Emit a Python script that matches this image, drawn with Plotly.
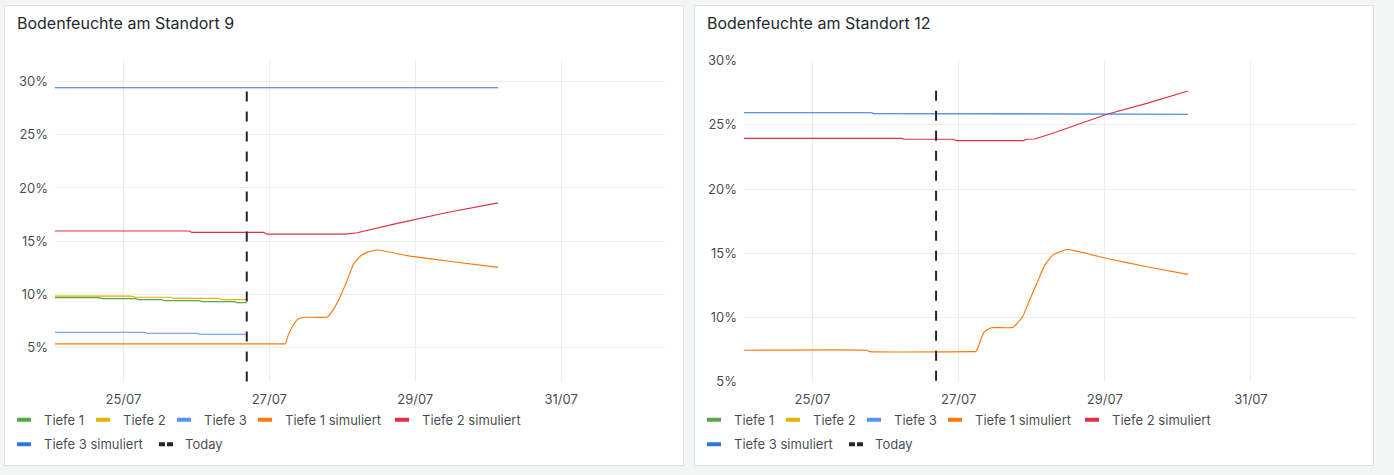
import plotly.graph_objects as go

W, H = 1394, 475


def px(x):
    return x / W


def py(y):
    return 1 - y / H


# ---------------- data ----------------
tick_dates = ["2024-07-25", "2024-07-27", "2024-07-29", "2024-07-31"]
tick_labels = ["25/07", "27/07", "29/07", "31/07"]
x_range = ["2024-07-24 01:30", "2024-08-01 10:10"]
today_time = ["2024-07-26 16:35", "2024-07-26 16:35"]

y_ticks = [5, 10, 15, 20, 25, 30]
y_tick_labels = ["5%", "10%", "15%", "20%", "25%", "30%"]
y_range_9 = [1.8, 32.0]
y_range_12 = [5.0, 30.0]

# Standort 9
s9_t1_x = ["2024-07-24 01:30", "2024-07-24 16:00", "2024-07-24 17:00", "2024-07-25 04:00",
           "2024-07-25 05:00", "2024-07-25 12:30", "2024-07-25 13:30", "2024-07-26 01:00",
           "2024-07-26 02:00", "2024-07-26 12:30", "2024-07-26 13:30", "2024-07-26 16:35"]
s9_t1_y = [9.71, 9.71, 9.62, 9.62, 9.53, 9.53, 9.43, 9.43, 9.34, 9.34, 9.24, 9.24]

s9_t2_x = ["2024-07-24 01:30", "2024-07-25 02:45", "2024-07-25 03:45", "2024-07-25 15:30",
           "2024-07-25 16:30", "2024-07-26 07:20", "2024-07-26 08:20", "2024-07-26 16:35"]
s9_t2_y = [9.85, 9.85, 9.75, 9.75, 9.65, 9.65, 9.53, 9.53]

s9_t3_x = ["2024-07-24 01:30", "2024-07-25 06:45", "2024-07-25 07:45", "2024-07-26 00:10",
           "2024-07-26 01:10", "2024-07-26 16:35"]
s9_t3_y = [6.47, 6.47, 6.37, 6.37, 6.28, 6.28]

s9_t1sim_x = ["2024-07-24 01:30", "2024-07-27 05:00", "2024-07-27 05:18", "2024-07-27 06:15",
              "2024-07-27 07:54", "2024-07-27 09:30", "2024-07-27 11:12", "2024-07-27 19:06",
              "2024-07-27 21:00", "2024-07-27 23:18", "2024-07-28 01:42", "2024-07-28 03:36",
              "2024-07-28 05:54", "2024-07-28 08:12", "2024-07-28 11:30", "2024-07-28 22:24",
              "2024-07-29 10:30", "2024-07-30 03:18"]
s9_t1sim_y = [5.37, 5.37, 5.37, 6.22, 7.15, 7.7, 7.87, 7.9, 8.56, 9.8, 11.4, 12.8, 13.6,
              13.96, 14.18, 13.6, 13.15, 12.55]

s9_t2sim_x = ["2024-07-24 01:30", "2024-07-25 21:30", "2024-07-25 22:30", "2024-07-26 22:10",
              "2024-07-26 23:10", "2024-07-28 01:00", "2024-07-28 04:54", "2024-07-28 18:06",
              "2024-07-29 10:30", "2024-07-30 03:18"]
s9_t2sim_y = [15.96, 15.96, 15.84, 15.84, 15.67, 15.67, 15.8, 16.68, 17.7, 18.6]

s9_t3sim_x = ["2024-07-24 01:30", "2024-07-30 03:18"]
s9_t3sim_y = [29.4, 29.4]

s9_today_y = [29.05, 1.8]

# Standort 12
s12_t1sim_x = ["2024-07-24 01:30", "2024-07-25 17:50", "2024-07-25 18:50", "2024-07-27 05:20",
               "2024-07-27 05:36", "2024-07-27 06:15", "2024-07-27 07:36", "2024-07-27 08:30",
               "2024-07-27 10:42", "2024-07-27 17:48", "2024-07-27 21:00", "2024-07-27 23:18",
               "2024-07-28 01:39", "2024-07-28 04:18", "2024-07-28 06:54", "2024-07-28 11:30",
               "2024-07-29 00:42", "2024-07-29 13:48", "2024-07-30 03:18"]
s12_t1sim_y = [7.45, 7.45, 7.34, 7.34, 7.34, 7.6, 8.5, 8.9, 9.2, 9.23, 10.06, 11.36, 12.66,
               14.08, 14.86, 15.3, 14.6, 13.95, 13.36]

s12_t2sim_x = ["2024-07-24 01:30", "2024-07-26 05:10", "2024-07-26 06:10", "2024-07-26 22:15",
               "2024-07-26 23:15", "2024-07-27 21:15", "2024-07-27 22:15", "2024-07-28 01:00",
               "2024-07-28 06:54", "2024-07-28 15:48", "2024-07-29 00:42", "2024-07-29 13:48",
               "2024-07-30 03:18"]
s12_t2sim_y = [23.95, 23.95, 23.88, 23.88, 23.78, 23.78, 23.88, 23.9, 24.35, 25.12,
               25.83, 26.68, 27.64]

s12_t3sim_x = ["2024-07-24 01:30", "2024-07-25 19:15", "2024-07-25 20:15", "2024-07-26 18:00",
               "2024-07-26 19:00", "2024-07-30 03:18"]
s12_t3sim_y = [25.95, 25.95, 25.88, 25.88, 25.83, 25.83]

s12_today_y = [27.65, 5.0]

titles = ["Bodenfeuchte am Standort 9", "Bodenfeuchte am Standort 12"]
legend_names = ["Tiefe 1", "Tiefe 2", "Tiefe 3", "Tiefe 1 simuliert",
                "Tiefe 2 simuliert", "Tiefe 3 simuliert", "Today"]

# ---------------- style ----------------
colors = {
    "Tiefe 1": "#56A64B",
    "Tiefe 2": "#E0B400",
    "Tiefe 3": "#5794F2",
    "Tiefe 1 simuliert": "#FF780A",
    "Tiefe 2 simuliert": "#E02F44",
    "Tiefe 3 simuliert": "#3274D9",
    "Today": "#232529",
}
smooth = {"Tiefe 1 simuliert": 0.35}
FONT = "Inter, Roboto, sans-serif"
TEXT = "rgba(36,41,46,0.85)"
GRID = "#ececec"
LW = 1.15

fig = go.Figure()

panels = [
    dict(xa="x", ya="y", series=[
        ("Tiefe 1", s9_t1_x, s9_t1_y), ("Tiefe 2", s9_t2_x, s9_t2_y),
        ("Tiefe 3", s9_t3_x, s9_t3_y), ("Tiefe 1 simuliert", s9_t1sim_x, s9_t1sim_y),
        ("Tiefe 2 simuliert", s9_t2sim_x, s9_t2sim_y),
        ("Tiefe 3 simuliert", s9_t3sim_x, s9_t3sim_y)], today=s9_today_y),
    dict(xa="x2", ya="y2", series=[
        ("Tiefe 1 simuliert", s12_t1sim_x, s12_t1sim_y),
        ("Tiefe 2 simuliert", s12_t2sim_x, s12_t2sim_y),
        ("Tiefe 3 simuliert", s12_t3sim_x, s12_t3sim_y)], today=s12_today_y),
]

for p in panels:
    for name, xs, ys in p["series"]:
        line = dict(color=colors[name], width=LW)
        if name in smooth:
            line.update(shape="spline", smoothing=smooth[name])
        fig.add_trace(go.Scatter(x=xs, y=ys, mode="lines", name=name, showlegend=False,
                                 line=line, xaxis=p["xa"], yaxis=p["ya"], hoverinfo="skip"))
    fig.add_trace(go.Scatter(x=today_time, y=p["today"], mode="lines", name="Today",
                             showlegend=False,
                             line=dict(color=colors["Today"], width=2, dash="10px,10px"),
                             xaxis=p["xa"], yaxis=p["ya"], hoverinfo="skip"))

# legends: one legend per entry so positions match the dashboard layout
panel_offsets = [0, 690]
legend_text_x = [44, 123, 204, 285, 422, 44, 185]
legend_row_y = [419.7, 419.7, 419.7, 419.7, 419.7, 444.3, 444.3]
legend_layouts = {}
k = 0
for pi, off in enumerate(panel_offsets):
    for j, name in enumerate(legend_names):
        k += 1
        lname = "legend" if k == 1 else f"legend{k}"
        if name == "Today":
            fig.add_trace(go.Scatter(
                x=[None], y=[None], mode="lines", name=name, legend=lname,
                line=dict(color=colors[name], width=4, dash="0px,9px,6px,2px,6px,100px"),
                xaxis=panels[pi]["xa"], yaxis=panels[pi]["ya"]))
        else:
            fig.add_trace(go.Scatter(
                x=[None], y=[None], mode="markers", name=name, legend=lname,
                marker=dict(symbol="line-ew", size=10, color=colors[name],
                            line=dict(width=4, color=colors[name])),
                xaxis=panels[pi]["xa"], yaxis=panels[pi]["ya"]))
        legend_layouts[lname] = dict(
            x=px(off + legend_text_x[j] - 40), y=py(legend_row_y[j]),
            xanchor="left", yanchor="middle", orientation="h",
            bgcolor="rgba(0,0,0,0)", borderwidth=0,
            font=dict(family=FONT, size=13, color=TEXT), itemclick=False)

# panel backgrounds
shapes = []
for x0, x1 in [(4.5, 683.5), (694.5, 1373.5)]:
    shapes.append(dict(type="rect", xref="paper", yref="paper", layer="below",
                       x0=px(x0), x1=px(x1), y0=py(465.5), y1=py(5.5),
                       fillcolor="#ffffff", line=dict(color="#dfe1e4", width=1)))

annotations = []
for t, x in zip(titles, [15, 705]):
    annotations.append(dict(text=t, xref="paper", yref="paper", x=px(x), y=py(23),
                            xanchor="left", yanchor="middle", showarrow=False,
                            font=dict(family=FONT, size=16, color="#24292e")))

axis_common_x = dict(type="date", range=x_range, tickvals=tick_dates, ticktext=tick_labels,
                     showgrid=True, gridcolor=GRID, gridwidth=1, zeroline=False,
                     showline=False, ticks="", ticklabelstandoff=8, automargin=False,
                     tickfont=dict(family=FONT, size=13, color=TEXT), fixedrange=True)
axis_common_y = dict(tickvals=y_ticks, ticktext=y_tick_labels, showgrid=True, gridcolor=GRID,
                     gridwidth=1, zeroline=False, showline=False, ticks="",
                     ticklabelstandoff=6, automargin=False,
                     tickfont=dict(family=FONT, size=13, color=TEXT), fixedrange=True)

fig.update_layout(
    width=W, height=H, autosize=False,
    margin=dict(l=0, r=0, t=0, b=0, pad=0, autoexpand=False),
    paper_bgcolor="#f4f5f5", plot_bgcolor="rgba(0,0,0,0)",
    font=dict(family=FONT, color=TEXT),
    shapes=shapes, annotations=annotations,
    xaxis=dict(axis_common_x, domain=[px(55), px(665)], anchor="y"),
    yaxis=dict(axis_common_y, domain=[py(382), py(60)], range=y_range_9, anchor="x"),
    xaxis2=dict(axis_common_x, domain=[px(744), px(1355)], anchor="y2"),
    yaxis2=dict(axis_common_y, domain=[py(381.7), py(60.7)], range=y_range_12, anchor="x2"),
    hovermode=False,
    **legend_layouts,
)

fig.write_html("out.html", config={"displayModeBar": False},
               post_script="document.body.style.margin='0';"
                           "document.body.style.overflow='hidden';"
                           "document.documentElement.style.background='#f4f5f5';")
